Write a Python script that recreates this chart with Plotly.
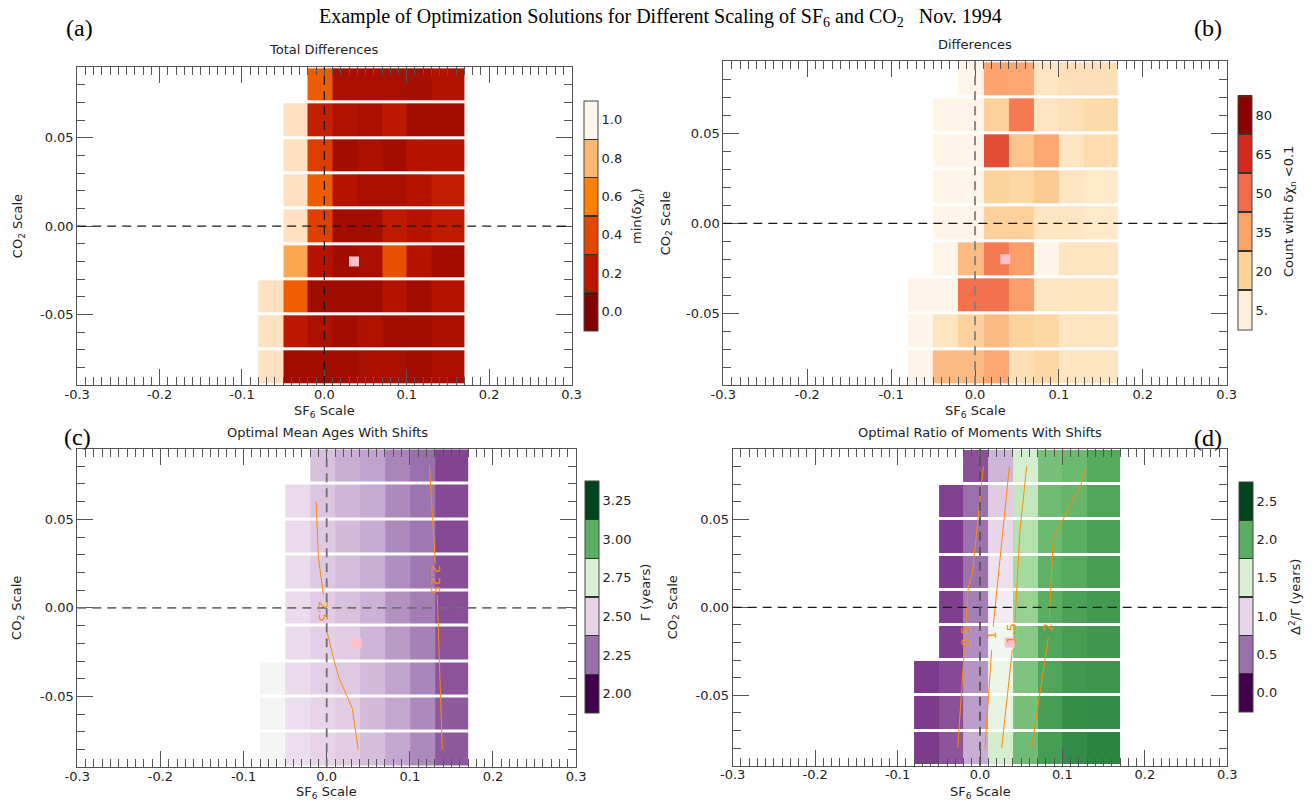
import plotly.graph_objects as go

W, H = 1315, 801

# ---------------------------------------------------------------- data
# cell edges of the scaling grid
sf6_edges = [-0.08, -0.05, -0.02, 0.01, 0.04, 0.07, 0.10, 0.13, 0.17]
co2_edges = [-0.09, -0.07, -0.05, -0.03, -0.01, 0.01, 0.03, 0.05, 0.07, 0.09]

nan = None
# rows listed from CO2 = 0.08 (top) down to CO2 = -0.08 (bottom)
total_diff = [
    [nan, nan, 0.47, 0.14, 0.14, 0.14, 0.13, 0.17],
    [nan, 0.93, 0.24, 0.16, 0.14, 0.21, 0.12, 0.12],
    [nan, 0.93, 0.36, 0.12, 0.15, 0.12, 0.18, 0.18],
    [nan, 0.93, 0.47, 0.18, 0.14, 0.14, 0.18, 0.23],
    [nan, 0.93, 0.37, 0.12, 0.12, 0.22, 0.18, 0.22],
    [nan, 0.74, 0.18, 0.11, 0.14, 0.43, 0.18, 0.12],
    [0.93, 0.48, 0.11, 0.11, 0.11, 0.18, 0.12, 0.18],
    [0.93, 0.21, 0.15, 0.12, 0.16, 0.12, 0.12, 0.14],
    [0.93, 0.12, 0.12, 0.12, 0.14, 0.14, 0.12, 0.14],
]
count_diff = [
    [nan, nan, 6, 38, 37, 16, 18, 18],
    [nan, 6, 6, 25, 47, 16, 18, 21],
    [nan, 6, 6, 56, 30, 37, 16, 20],
    [nan, 6, 6, 24, 22, 28, 16, 14],
    [nan, 6, 6, 25, 25, 16, 16, 14],
    [nan, 6, 33, 47, 39, 6, 16, 16],
    [6, 6, 49, 49, 39, 16, 16, 16],
    [6, 16, 25, 33, 25, 22, 16, 16],
    [6, 33, 33, 37, 18, 22, 16, 16],
]
mean_age = [
    [nan, nan, 2.45, 2.40, 2.37, 2.30, 2.25, 2.17],
    [nan, 2.52, 2.46, 2.42, 2.39, 2.31, 2.26, 2.18],
    [nan, 2.52, 2.47, 2.43, 2.39, 2.31, 2.27, 2.18],
    [nan, 2.53, 2.47, 2.44, 2.40, 2.32, 2.27, 2.19],
    [nan, 2.53, 2.48, 2.45, 2.41, 2.33, 2.28, 2.19],
    [nan, 2.53, 2.49, 2.48, 2.42, 2.35, 2.29, 2.20],
    [2.64, 2.53, 2.49, 2.47, 2.43, 2.37, 2.30, 2.20],
    [2.64, 2.54, 2.50, 2.48, 2.43, 2.38, 2.31, 2.21],
    [2.64, 2.54, 2.50, 2.48, 2.44, 2.38, 2.31, 2.21],
]
moment_ratio = [
    [nan, nan, 0.39, 0.83, 1.52, 1.90, 1.94, 2.02],
    [nan, 0.33, 0.50, 0.95, 1.61, 1.93, 1.96, 2.04],
    [nan, 0.31, 0.51, 1.01, 1.68, 1.94, 2.00, 2.06],
    [nan, 0.31, 0.51, 1.09, 1.75, 1.99, 2.02, 2.08],
    [nan, 0.32, 0.57, 1.17, 1.80, 2.00, 2.06, 2.09],
    [nan, 0.32, 0.64, 1.29, 1.85, 2.04, 2.08, 2.11],
    [0.31, 0.36, 0.67, 1.36, 1.88, 2.04, 2.10, 2.12],
    [0.31, 0.39, 0.71, 1.39, 1.90, 2.08, 2.15, 2.16],
    [0.31, 0.40, 0.80, 1.53, 1.93, 2.08, 2.16, 2.19],
]

# optimal scaling point
best_sf6 = [0.036]
best_co2 = [-0.020]

# contour paths (None = gap for the inline label)
age_250_x = [-0.0128, -0.010, -0.004, None, -0.001, 0.002, 0.0088, 0.015, 0.023, 0.0308, 0.038]
age_250_y = [0.060, 0.0288, 0.0075, None, -0.0116, -0.0163, -0.0295, -0.0398, -0.0483, -0.0567, -0.080]
age_225_x = [0.1235, 0.128, 0.1307, None, 0.133, 0.1355, 0.139]
age_225_y = [0.0804, 0.0457, 0.025, None, 0.0072, -0.0313, -0.080]
age_labels = [("2.5", -0.004, -0.002), ("2.25", 0.131, 0.0160)]

ratio_05_x = [0.004, -0.004, -0.0093, -0.0142, -0.017, None, -0.019, -0.027]
ratio_05_y = [0.080, 0.0456, 0.0192, 0.0117, -0.008, None, -0.0242, -0.080]
ratio_10_x = [0.0356, 0.0234, 0.016, None, 0.0142, 0.006]
ratio_10_y = [0.080, 0.0249, -0.011, None, -0.0242, -0.080]
ratio_15_x = [0.0566, 0.0485, 0.0425, None, 0.0392, 0.0263]
ratio_15_y = [0.080, 0.0438, -0.008, None, -0.0242, -0.080]
ratio_20_x = [0.1286, 0.1205, 0.1157, 0.0889, 0.0841, None, 0.0829, 0.0627]
ratio_20_y = [0.080, 0.0664, 0.0636, 0.039, -0.0060, None, -0.0170, -0.080]
ratio_labels = [("0.5", -0.018, -0.0165), ("1", 0.0145, -0.0160),
                ("1.5", 0.0390, -0.0150), ("2", 0.0825, -0.0115)]

x_ticks = [-0.3, -0.2, -0.1, 0.0, 0.1, 0.2, 0.3]
x_tick_text = ["-0.3", "-0.2", "-0.1", "0.0", "0.1", "0.2", "0.3"]
y_ticks = [-0.05, 0.0, 0.05]
y_tick_text = ["-0.05", "0.00", "0.05"]

# colour bar classes
bar_a_vals = [0.0, 0.2, 0.4, 0.6, 0.8, 1.0]
bar_a_text = ["0.0", "0.2", "0.4", "0.6", "0.8", "1.0"]
bar_b_vals = [5, 20, 35, 50, 65, 80]
bar_b_text = ["5.", "20", "35", "50", "65", "80"]
bar_c_vals = [2.00, 2.25, 2.50, 2.75, 3.00, 3.25]
bar_c_text = ["2.00", "2.25", "2.50", "2.75", "3.00", "3.25"]
bar_d_vals = [0.0, 0.5, 1.0, 1.5, 2.0, 2.5]
bar_d_text = ["0.0", "0.5", "1.0", "1.5", "2.0", "2.5"]

# ---------------------------------------------------------------- colours
heat_colors = ["#800000", "#bb1500", "#e34800", "#ff8000", "#ffb870", "#fff5eb"]
orrd = ["#fff7ec", "#fee8c8", "#fdd49e", "#fdbb84", "#fc8d59",
        "#ef6548", "#d7301f", "#b30000", "#7f0000"]
orrd_bar = ["#feeedc", "#fdd39a", "#fca56a", "#f26b4a", "#d42a1e", "#8b0000"]
prgn = ["#40004b", "#762a83", "#9970ab", "#c2a5cf", "#e7d4e8", "#f7f7f7",
        "#d9f0d3", "#a6dba0", "#5aae61", "#1b7837", "#00441b"]
prgn_bar = ["#40004b", "#9970ab", "#e7d4e8", "#d9f0d3", "#5aae61", "#00441b"]

FONT = "DejaVu Sans"
SERIF = "Liberation Serif"
AX = "#555555"
ORANGE = "#ff8c00"


def even_scale(colors):
    n = len(colors) - 1
    return [[i / n, c] for i, c in enumerate(colors)]


def class_scale(colors, sep="#333333", half=0.0022):
    n = len(colors)
    cs = [[0.0, colors[0]]]
    for k in range(1, n):
        b = k / n
        cs += [[b - half, colors[k - 1]], [b - half, sep],
               [b + half, sep], [b + half, colors[k]]]
    cs.append([1.0, colors[-1]])
    return cs


def px(x):
    return x / W


def py(y):
    return 1 - y / H


# plot areas in pixels: left, right, top, bottom
areas = {
    "a": (77.2, 571.5, 67.3, 385.0),
    "b": (723.3, 1226.7, 61.3, 385.3),
    "c": (77.3, 576.1, 448.5, 767.3),
    "d": (732.7, 1227.3, 449.0, 765.7),
}
axis_ids = {"a": ("x", "y"), "b": ("x2", "y2"), "c": ("x3", "y3"), "d": ("x4", "y4")}

fig = go.Figure()
layout_axes = {}


def axis_dict(domain, anchor, vals, text, rng, standoff):
    return dict(
        domain=domain, anchor=anchor, range=rng,
        tickmode="array", tickvals=vals, ticktext=text,
        ticks="inside", ticklen=16, tickwidth=1, tickcolor=AX,
        showline=True, linecolor=AX, linewidth=1, mirror="allticks",
        showgrid=False, zeroline=False, automargin=False, fixedrange=True,
        ticklabelstandoff=standoff,
        minor=dict(tickmode="linear", tick0=0, dtick=0.01, ticks="inside",
                   ticklen=8, tickwidth=1, tickcolor=AX, showgrid=False),
        tickfont=dict(family=FONT, size=13, color="#222222"),
    )


for key, (l, r, t, b) in areas.items():
    xa, ya = axis_ids[key]
    xname = "xaxis" + xa[1:]
    yname = "yaxis" + ya[1:]
    layout_axes[xname] = axis_dict([px(l), px(r)], ya, x_ticks, x_tick_text, [-0.3, 0.3], -3)
    layout_axes[yname] = axis_dict([py(b), py(t)], xa, y_ticks, y_tick_text, [-0.09, 0.09], 0)

panels = [
    ("a", total_diff, even_scale(heat_colors), 0.0, 1.0),
    ("b", count_diff, even_scale(orrd), 5, 80),
    ("c", mean_age, even_scale(prgn), 2.0, 3.25),
    ("d", moment_ratio, even_scale(prgn), 0.0, 2.5),
]
for key, rows, cs, zmin, zmax in panels:
    xa, ya = axis_ids[key]
    fig.add_trace(go.Heatmap(
        x=sf6_edges, y=co2_edges, z=rows[::-1], colorscale=cs,
        zmin=zmin, zmax=zmax, showscale=False, ygap=3, xgap=0,
        hoverinfo="skip", xaxis=xa, yaxis=ya))

# contour lines
for xs, ys in [(age_250_x, age_250_y), (age_225_x, age_225_y)]:
    fig.add_trace(go.Scatter(x=xs, y=ys, mode="lines", line=dict(color=ORANGE, width=1),
                             connectgaps=False, showlegend=False, hoverinfo="skip",
                             xaxis="x3", yaxis="y3"))
for xs, ys in [(ratio_05_x, ratio_05_y), (ratio_10_x, ratio_10_y),
               (ratio_15_x, ratio_15_y), (ratio_20_x, ratio_20_y)]:
    fig.add_trace(go.Scatter(x=xs, y=ys, mode="lines", line=dict(color=ORANGE, width=1),
                             connectgaps=False, showlegend=False, hoverinfo="skip",
                             xaxis="x4", yaxis="y4"))

# optimal point
for key in "abcd":
    xa, ya = axis_ids[key]
    fig.add_trace(go.Scatter(x=best_sf6, y=best_co2, mode="markers",
                             marker=dict(symbol="square", size=10, color="#ffc0cb",
                                         line=dict(width=0)),
                             showlegend=False, hoverinfo="skip", xaxis=xa, yaxis=ya))

# colour bars: (key, colours, ticks, labels, bar box left/top/bottom px)
bars = [
    ("a", heat_colors, bar_a_vals, bar_a_text, 584.3, 100.7, 330.7),
    ("b", orrd_bar, bar_b_vals, bar_b_text, 1238.3, 95.7, 329.3),
    ("c", prgn_bar, bar_c_vals, bar_c_text, 585.3, 481.0, 713.3),
    ("d", prgn_bar, bar_d_vals, bar_d_text, 1239.3, 481.7, 712.0),
]
for key, cols, vals, text, bx, btop, bbot in bars:
    xa, ya = axis_ids[key]
    step = vals[1] - vals[0]
    cmin, cmax = vals[0] - step / 2, vals[-1] + step / 2
    fig.add_trace(go.Scatter(
        x=[None], y=[None], mode="markers", showlegend=False, hoverinfo="skip",
        xaxis=xa, yaxis=ya,
        marker=dict(color=[vals[0]], colorscale=class_scale(cols), cmin=cmin, cmax=cmax,
                    showscale=True,
                    colorbar=dict(
                        x=px(bx), xanchor="left", xpad=0,
                        y=py((btop + bbot) / 2), yanchor="middle", ypad=0,
                        len=bbot - btop, lenmode="pixels",
                        thickness=13.5, thicknessmode="pixels",
                        outlinewidth=1, outlinecolor="#444444",
                        tickmode="array", tickvals=vals, ticktext=text, ticks="",
                        tickfont=dict(family=FONT, size=13, color="#222222"),
                    ))))

shapes = []
dash_style = {
    "a": ("#1a1a1a", 1.2, "#1a1a1a", 1.2),
    "b": ("#1a1a1a", 1.2, "#808080", 1.8),
    "c": ("#707070", 1.8, "#707070", 1.8),
    "d": ("#1a1a1a", 1.2, "#555555", 1.8),
}
for key in "abcd":
    xa, ya = axis_ids[key]
    hc, hw, vc, vw = dash_style[key]
    shapes.append(dict(type="line", xref=xa + " domain", x0=0, x1=1, yref=ya, y0=0, y1=0,
                       line=dict(color=hc, width=hw, dash="9px,6px"), layer="above"))
    shapes.append(dict(type="line", yref=ya + " domain", y0=0, y1=1, xref=xa, x0=0, x1=0,
                       line=dict(color=vc, width=vw, dash="9px,6px"), layer="above"))

annotations = []


def text_at(x, y, text, size=13, family=FONT, angle=0, color="#222222"):
    annotations.append(dict(x=px(x), y=py(y), xref="paper", yref="paper", text=text,
                            showarrow=False, textangle=angle, xanchor="center",
                            yanchor="middle", font=dict(family=family, size=size, color=color)))


NB = "\u00a0"
text_at(660, 17, "Example of Optimization Solutions for Different Scaling of SF<sub>6</sub> and CO<sub>2</sub>"
        + NB * 3 + "Nov. 1994", size=20, family=SERIF, color="#000000")
for lab, x, y in [("(a)", 79, 28), ("(b)", 1208, 28), ("(c)", 77, 437), ("(d)", 1208, 438)]:
    text_at(x, y, lab, size=24, family=SERIF, color="#000000")

text_at(324, 49, "Total Differences")
text_at(975, 44, "Differences")
text_at(327, 432, "Optimal Mean Ages With Shifts")
text_at(980, 432, "Optimal Ratio of Moments With Shifts")

for key, yl in [("a", 411), ("b", 411), ("c", 792), ("d", 792)]:
    l, r, t, b = areas[key]
    text_at((l + r) / 2, yl, "SF<sub>6</sub> Scale")
for key, xl in [("a", 18), ("b", 666), ("c", 18), ("d", 673)]:
    l, r, t, b = areas[key]
    text_at(xl, (t + b) / 2, "CO<sub>2</sub> Scale", angle=-90)

# colour bar titles
text_at(637, 216, "min(δχ<sub>n</sub>)", angle=-90)
text_at(1290, 212, "Count with δχ<sub>n</sub> <0.1", angle=-90)
text_at(645, 593, "Γ (years)", angle=-90)
text_at(1295, 597, "Δ<sup>2</sup>/Γ (years)", angle=-90)

for lab, x, y in age_labels:
    annotations.append(dict(x=x, y=y, xref="x3", yref="y3", text=lab, showarrow=False,
                            textangle=90, font=dict(family=FONT, size=13, color=ORANGE)))
for lab, x, y in ratio_labels:
    annotations.append(dict(x=x, y=y, xref="x4", yref="y4", text=lab, showarrow=False,
                            textangle=-90, font=dict(family=FONT, size=13, color=ORANGE)))

fig.update_layout(
    width=W, height=H, template="none",
    margin=dict(l=0, r=0, t=0, b=0, pad=0),
    paper_bgcolor="white", plot_bgcolor="white",
    showlegend=False, shapes=shapes, annotations=annotations,
    font=dict(family=FONT, size=13, color="#222222"),
    **layout_axes,
)

fig.write_html("out.html")
